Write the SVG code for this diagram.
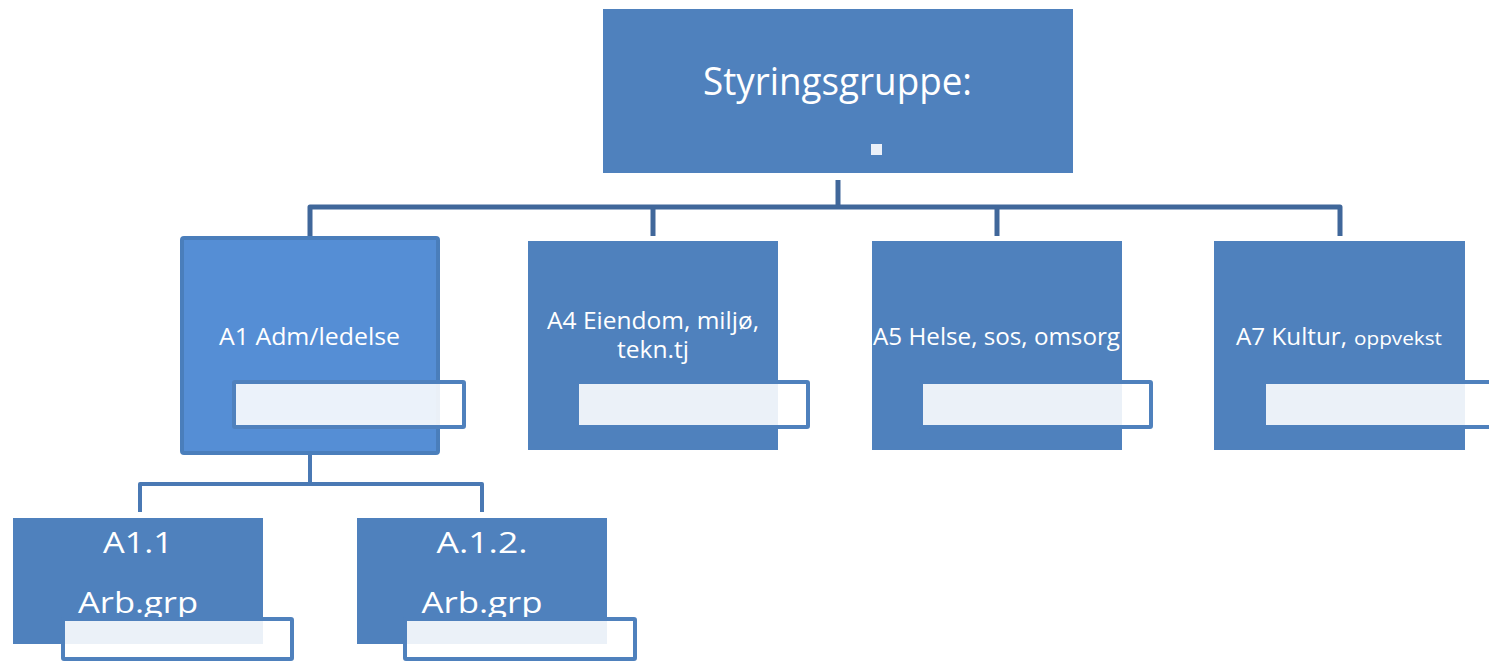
<svg xmlns="http://www.w3.org/2000/svg" width="1489" height="661" viewBox="0 0 1489 661">
<style>
.box{fill:#4F81BD;}
.sel{fill:#558ED5;stroke:#4A7EBB;stroke-width:4;}
.ov{fill:#ffffff;fill-opacity:0.885;stroke:#4F81BD;stroke-width:4;}
.t{font-family:"Open Sans","Liberation Sans",sans-serif;fill:#ffffff;}
.c1{fill:none;stroke:#40679A;stroke-width:5;stroke-linejoin:round;}
.c2{fill:none;stroke:#4A79B4;stroke-width:4;stroke-linejoin:round;}
</style>
<rect width="1489" height="661" fill="#ffffff"/>
<g id="connectors">
<path class="c1" d="M838 180 V207"/>
<path class="c1" d="M310 236 V207 H1340 V236"/>
<path class="c1" d="M653 207 V236"/>
<path class="c1" d="M997 207 V236"/>
<path class="c2" d="M310 455 V484"/>
<path class="c2" d="M140 512 V484 H482 V512"/>
</g>
<g id="styringsgruppe">
<rect class="box" x="603" y="9" width="470" height="164"/>
<text class="t" x="837.5" y="95" font-size="38" text-anchor="middle" textLength="269" lengthAdjust="spacingAndGlyphs">Styringsgruppe:</text>
<rect x="871" y="144" width="11" height="11" fill="#EBF0F8"/>
</g>
<g id="a1">
<rect class="sel" x="182" y="238" width="256" height="215" rx="2"/>
<text class="t" x="309.5" y="345" font-size="24" text-anchor="middle" textLength="181" lengthAdjust="spacingAndGlyphs">A1 Adm/ledelse</text>
<rect class="ov" x="234" y="382" width="230" height="45" rx="1"/>
</g>
<g id="a4">
<rect class="box" x="528" y="241" width="250" height="209"/>
<text class="t" x="653" y="329" font-size="23" text-anchor="middle" textLength="212" lengthAdjust="spacingAndGlyphs">A4 Eiendom, miljø,</text>
<text class="t" x="653" y="358" font-size="23" text-anchor="middle" textLength="72" lengthAdjust="spacingAndGlyphs">tekn.tj</text>
<rect class="ov" x="577" y="382" width="231" height="45" rx="1"/>
</g>
<g id="a5">
<rect class="box" x="872" y="241" width="250" height="209"/>
<text class="t" x="996.5" y="345" font-size="23" text-anchor="middle" textLength="247" lengthAdjust="spacingAndGlyphs">A5 Helse, sos, omsorg</text>
<rect class="ov" x="921" y="382" width="230" height="45" rx="1"/>
</g>
<g id="a7">
<rect class="box" x="1214" y="241" width="251" height="209"/>
<text class="t" x="1236" y="345" font-size="23" textLength="111" lengthAdjust="spacingAndGlyphs">A7 Kultur,</text>
<text class="t" x="1354" y="345" font-size="18" textLength="88" lengthAdjust="spacingAndGlyphs">oppvekst</text>
<rect class="ov" x="1264" y="382" width="240" height="45" rx="1"/>
</g>
<g id="a1-1">
<rect class="box" x="13" y="518" width="250" height="126"/>
<text class="t" x="138" y="553" font-size="30" text-anchor="middle" textLength="70" lengthAdjust="spacingAndGlyphs">A1.1</text>
<text class="t" x="138" y="613" font-size="30" text-anchor="middle" textLength="120" lengthAdjust="spacingAndGlyphs">Arb.grp</text>
<rect class="ov" x="63" y="619" width="229" height="40" rx="1"/>
</g>
<g id="a1-2">
<rect class="box" x="357" y="518" width="250" height="126"/>
<text class="t" x="482" y="553" font-size="30" text-anchor="middle" textLength="91" lengthAdjust="spacingAndGlyphs">A.1.2.</text>
<text class="t" x="482" y="613" font-size="30" text-anchor="middle" textLength="121" lengthAdjust="spacingAndGlyphs">Arb.grp</text>
<rect class="ov" x="405" y="619" width="230" height="40" rx="1"/>
</g>
</svg>
